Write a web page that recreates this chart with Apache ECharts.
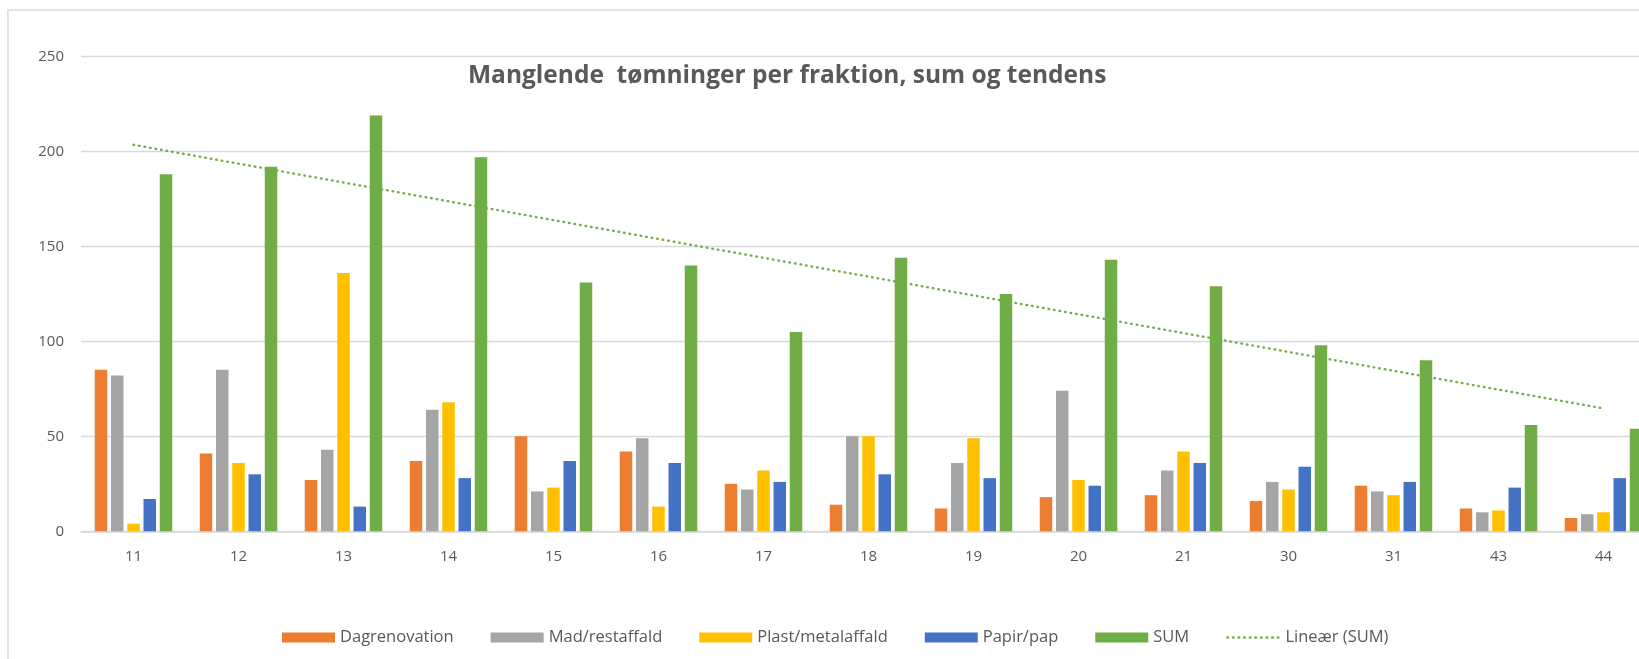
<!DOCTYPE html>
<html>
<head>
<meta charset="utf-8">
<script src="https://cdn.jsdelivr.net/npm/echarts@6/dist/echarts.min.js"></script>
<style>
html,body{margin:0;padding:0;background:#fff;overflow:hidden;width:1639px;height:659px;}
#chart{width:1700px;height:659px;}
</style>
</head>
<body>
<div id="chart"></div>
<script>
const categories = ['11','12','13','14','15','16','17','18','19','20','21','30','31','43','44'];
const dagrenovation = [85,41,27,37,50,42,25,14,12,18,19,16,24,12,7];
const madRestaffald = [82,85,43,64,21,49,22,50,36,74,32,26,21,10,9];
const plastMetal = [4,36,136,68,23,13,32,50,49,27,42,22,19,11,10];
const papirPap = [17,30,13,28,37,36,26,30,28,24,36,34,26,23,28];
const sumValues = [188,192,219,197,131,140,105,144,125,143,129,98,90,56,54];
const trendEnds = [203.5, 64.7];
const yTicks = [0, 50, 100, 150, 200, 250];
const seriesNames = ['Dagrenovation','Mad/restaffald','Plast/metalaffald','Papir/pap','SUM','Lineær (SUM)'];
const titleText = 'Manglende  tømninger per fraktion, sum og tendens';

const colors = ['#ED7D31','#A5A5A5','#FFC000','#4472C4','#70AD47'];
const barData = [dagrenovation, madRestaffald, plastMetal, papirPap, sumValues];
const legendTextWidths = [114, 117, 133, 76, 37, 108];
const font = 'Open Sans';

const chart = echarts.init(document.getElementById('chart'), null, {renderer:'canvas'});
const barSeries = barData.map((d, i) => ({
  name: seriesNames[i],
  type: 'bar',
  data: d,
  barWidth: 12.5,
  barGap: '30%',
  itemStyle: { color: colors[i] },
  emphasis: { disabled: true }
}));
const trendLineStyle = { color: '#70AD47', width: 2.4, type: [0.6, 5], cap: 'round' };
const trendSeries = {
  name: seriesNames[5],
  type: 'line',
  data: [[categories[0], trendEnds[0]], [categories[categories.length-1], trendEnds[1]]],
  symbol: 'none',
  z: 5,
  lineStyle: trendLineStyle,
  itemStyle: { color: '#70AD47' },
  emphasis: { disabled: true }
};

const legendData = seriesNames.map((n, i) => {
  const item = { name: n, textStyle: { width: legendTextWidths[i] } };
  if (i < 5) item.icon = 'rect';
  else item.itemStyle = { opacity: 0, color: 'rgba(0,0,0,0)', borderWidth: 0 };
  return item;
});

chart.setOption({
  animation: false,
  backgroundColor: '#fff',
  title: {
    text: titleText,
    left: 463,
    top: 59,
    textStyle: { fontFamily: font, fontWeight: 'bold', fontSize: 24.5, color: '#595959' }
  },
  graphic: [{
    type: 'rect',
    shape: { x: 8, y: 10, width: 1760, height: 700 },
    style: { fill: 'none', stroke: '#d9d9d9', lineWidth: 1.5 },
    silent: true, z: -10
  }],
  legend: {
    data: legendData,
    left: 277,
    top: 624,
    itemWidth: 53,
    itemHeight: 10,
    itemGap: 37,
    textStyle: { fontFamily: font, fontSize: 16.5, color: '#595959' },
    lineStyle: { color: '#70AD47', width: 2.4, type: [0.6, 5], cap: 'round' },
    selectedMode: false
  },
  grid: { left: 81, right: 44, top: 56.5, bottom: 127.7, containLabel: false },
  xAxis: {
    type: 'category',
    data: categories,
    axisTick: { show: false },
    axisLine: { lineStyle: { color: '#d9d9d9', width: 1.5 } },
    axisLabel: { fontFamily: font, fontSize: 15, color: '#595959', margin: 18 }
  },
  yAxis: {
    type: 'value',
    min: yTicks[0],
    max: yTicks[yTicks.length-1],
    interval: yTicks[1] - yTicks[0],
    axisLine: { show: false },
    axisTick: { show: false },
    splitLine: { lineStyle: { color: '#d9d9d9', width: 1.3 } },
    axisLabel: { fontFamily: font, fontSize: 15, color: '#595959', margin: 17 }
  },
  series: [...barSeries, trendSeries]
});
</script>
</body>
</html>
